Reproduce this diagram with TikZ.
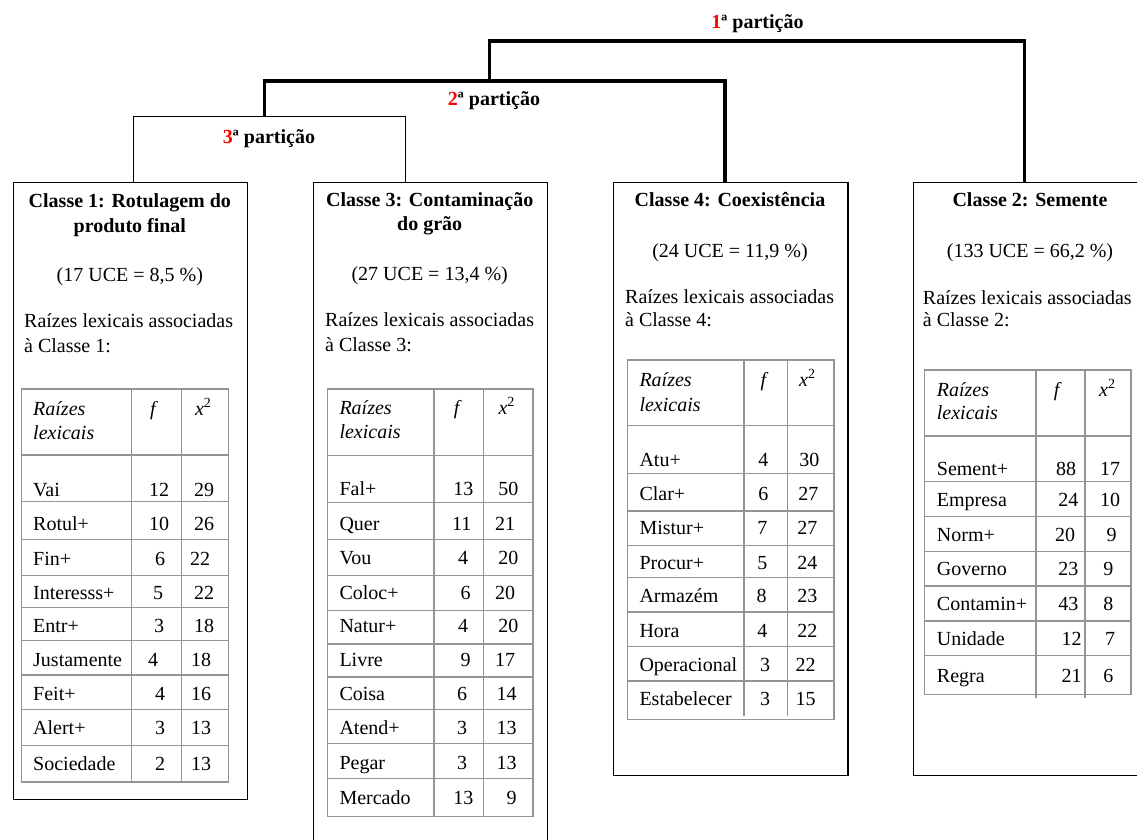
\documentclass[tikz,border=0pt]{standalone}
\usepackage{fontspec}
\setmainfont{Liberation Serif}
\begin{document}
\begin{tikzpicture}[x=1pt,y=-1pt,
  every node/.style={font=\fontsize{20}{24}\selectfont},
  boxnode/.style={draw=black, line width=1.2pt, rectangle, inner sep=0, anchor=north west},
  txt/.style={inner sep=0, anchor=base west},
  ctxt/.style={inner sep=0, anchor=base},
  ttl/.style={inner sep=0, anchor=base, font=\fontsize{20}{24}\selectfont\bfseries},
  hdr/.style={inner sep=0, anchor=base west, font=\fontsize{20}{24}\selectfont\itshape},
  chdr/.style={inner sep=0, anchor=base, font=\fontsize{20}{24}\selectfont\itshape},
  plab/.style={inner sep=0, anchor=base, font=\fontsize{20}{24}\selectfont\bfseries},
  tline/.style={draw=black!42, line width=1.3pt},
  treebig/.style={draw=black, line width=3.6pt},
  treesmall/.style={draw=black, line width=1.2pt}
]
\useasboundingbox (0,0) rectangle (1137,840);
\fill[white] (0,0) rectangle (1137,840);
\clip (0,0) rectangle (1137,840);

% ---------- boxes ----------
\node[boxnode, minimum width=234.3pt, minimum height=617pt] (c1) at (12.7,182) {};
\node[boxnode, minimum width=234.0pt, minimum height=700pt] (c3) at (312.7,182) {};
\node[boxnode, minimum width=234.6pt, minimum height=593pt] (c4) at (612.7,182) {};
\node[boxnode, minimum width=234.6pt, minimum height=593pt] (c2) at (912.7,182) {};

% ---------- tree ----------
\coordinate (j1L) at (489.6,41);  \coordinate (j1R) at (1024.5,41);
\coordinate (j2L) at (264.5,81);  \coordinate (j2R) at (725,81);
\coordinate (j3L) at (133.2,116.7); \coordinate (j3R) at (405.6,116.7);
\draw[treebig] (j2L -| j1L) -- (j1L) -- (j1R) -- (c2.north -| j1R);
\draw[treebig] (j3L -| j2L) -- (j2L) -- (j2R) -- (c4.north -| j2R);
\draw[treesmall] (c1.north -| j3L) -- (j3L) -- (j3R) -- (c3.north -| j3R);
\node[plab] (l1) at (757.5,29) {\textcolor{red}{1}ª partição};
\node[plab] (l2) at (494,106) {\textcolor{red}{2}ª partição};
\node[plab] (l3) at (269,143) {\textcolor{red}{3}ª partição};

% ---------- Classe 1 ----------
\node[ttl] (c1t1) at (129.85,207) {Classe 1: Rotulagem do};
\node[ttl] (c1t2) at (129.85,232.6) {produto final};
\node[ctxt] (c1u) at (129.85,281) {(17 UCE = 8,5 \%)};
\node[txt] (c1r1) at (24,327) {Raízes lexicais associadas};
\node[txt] (c1r2) at (24,352) {à Classe 1:};
\draw[tline] (21.7,389) rectangle (228.3,782);
\foreach \y in {455,501.5,539.6,575.2,607.7,640.6,675.1,709.5,745.6}
  \draw[tline] (21.7,\y) -- (228.3,\y);
\draw[tline] (131.7,389) -- (131.7,782);
\draw[tline] (181.7,389) -- (181.7,782);
\node[hdr] (c1h1) at (33,415) {Raízes};
\node[hdr] (c1h2) at (33,439) {lexicais};
\node[chdr] (c1hf) at (153,415) {f};
\node[chdr] (c1hx) at (203.3,415) {x\textsuperscript{\upshape 2}};
\foreach \w/\f/\fx/\c/\cx/\y [count=\i] in {
  Vai/12/159/29/204/496,
  Rotul+/10/159/26/204/530,
  Fin+/6/160/22/200/565,
  Interesss+/5/158/22/204/599.5,
  Entr+/3/159/18/204/632.5,
  Justamente/4/153/18/201/666,
  Feit+/4/160/16/201/700,
  Alert+/3/160/13/201/734.5,
  Sociedade/2/160/13/201/770}
{
  \node[txt] (c1w\i) at (33,\y) {\w};
  \node[ctxt] (c1f\i) at (\fx,\y) {\f};
  \node[ctxt] (c1x\i) at (\cx,\y) {\c};
}

% ---------- Classe 3 ----------
\node[ttl] (c3t1) at (429.7,206) {Classe 3: Contaminação};
\node[ttl] (c3t2) at (429.7,230.4) {do grão};
\node[ctxt] (c3u) at (429.7,280) {(27 UCE = 13,4 \%)};
\node[txt] (c3r1) at (325,326.5) {Raízes lexicais associadas};
\node[txt] (c3r2) at (325,351) {à Classe 3:};
\draw[tline] (327.5,389) rectangle (533,816.7);
\foreach \y in {455.8,502.4,539.2,575.5,610.2,644,677,709.6,743.4,778.6}
  \draw[tline] (327.5,\y) -- (533,\y);
\draw[tline] (434,389) -- (434,816.7);
\draw[tline] (483.5,389) -- (483.5,816.7);
\node[hdr] (c3h1) at (339.3,414.5) {Raízes};
\node[hdr] (c3h2) at (339.3,438.6) {lexicais};
\node[chdr] (c3hf) at (456.7,414.5) {f};
\node[chdr] (c3hx) at (506.7,414.5) {x\textsuperscript{\upshape 2}};
\foreach \w/\f/\fx/\c/\cx/\y [count=\i] in {
  Fal+/13/463.3/50/508.3/495.7,
  Quer/11/461.7/21/505/530.4,
  Vou/4/463/20/508.3/564.2,
  Coloc+/6/465.7/20/505/599.3,
  Natur+/4/463/20/508.3/632.3,
  Livre/9/465.7/17/505/666,
  Coisa/6/462/14/506.7/700,
  Atend+/3/462/13/506.7/734.7,
  Pegar/3/462/13/506.7/769.8,
  Mercado/13/463.3/9/511.7/804.5}
{
  \node[txt] (c3w\i) at (339.3,\y) {\w};
  \node[ctxt] (c3f\i) at (\fx,\y) {\f};
  \node[ctxt] (c3x\i) at (\cx,\y) {\c};
}

% ---------- Classe 4 ----------
\node[ttl] (c4t1) at (730,206) {Classe 4: Coexistência};
\node[ctxt] (c4u) at (730,257.8) {(24 UCE = 11,9 \%)};
\node[txt] (c4r1) at (625,303.8) {Raízes lexicais associadas};
\node[txt] (c4r2) at (625,326.5) {à Classe 4:};
\draw[tline] (627.7,360) rectangle (834,719.4);
\foreach \y in {425.4,473.3,510.9,545.8,577.6,612.1,646.6,681.1}
  \draw[tline] (627.7,\y) -- (834,\y);
\draw[tline] (744,360) -- (744,716);
\draw[tline] (787.7,360) -- (787.7,716);
\node[hdr] (c4h1) at (639.3,386.5) {Raízes};
\node[hdr] (c4h2) at (639.3,411) {lexicais};
\node[chdr] (c4hf) at (763.3,386.5) {f};
\node[chdr] (c4hx) at (807.3,386.5) {x\textsuperscript{\upshape 2}};
\foreach \w/\f/\fx/\c/\cx/\y [count=\i] in {
  Atu+/4/763.3/30/809.3/466.7,
  Clar+/6/763.3/27/808.3/500.5,
  Mistur+/7/762.3/27/807.3/534.5,
  Procur+/5/762.3/24/807.3/569,
  Armazém/8/761.7/23/807.3/602.5,
  Hora/4/762.3/22/807.3/637,
  Operacional/3/765/22/805.7/671,
  Estabelecer/3/765/15/805.7/705.4}
{
  \node[txt] (c4w\i) at (639.3,\y) {\w};
  \node[ctxt] (c4f\i) at (\fx,\y) {\f};
  \node[ctxt] (c4x\i) at (\cx,\y) {\c};
}

% ---------- Classe 2 ----------
\node[ttl] (c2t1) at (1030,206) {Classe 2: Semente};
\node[ctxt] (c2u) at (1030,257.8) {(133 UCE = 66,2 \%)};
\node[txt] (c2r1) at (922.7,304) {Raízes lexicais associadas};
\node[txt] (c2r2) at (922.7,326.5) {à Classe 2:};
\draw[tline] (924.3,370) rectangle (1131,694.3);
\foreach \y in {436,481.7,516.5,551.3,586.1,620.9,655.7}
  \draw[tline] (924.3,\y) -- (1131,\y);
\draw[tline] (1036,370) -- (1036,697.5);
\draw[tline] (1085,370) -- (1085,697.5);
\node[hdr] (c2h1) at (936.7,396) {Raízes};
\node[hdr] (c2h2) at (936.7,419.5) {lexicais};
\node[chdr] (c2hf) at (1056.7,396) {f};
\node[chdr] (c2hx) at (1107.3,396) {x\textsuperscript{\upshape 2}};
\foreach \w/\f/\fx/\c/\cx/\y [count=\i] in {
  Sement+/88/1066/17/1110/475,
  Empresa/24/1068.3/10/1110/506,
  Norm+/20/1065/9/1111.7/541,
  Governo/23/1068.3/9/1108.3/575.7,
  Contamin+/43/1068.3/8/1108.3/610.5,
  Unidade/12/1071.7/7/1110/645.3,
  Regra/21/1071.7/6/1108.3/682}
{
  \node[txt] (c2w\i) at (936.7,\y) {\w};
  \node[ctxt] (c2f\i) at (\fx,\y) {\f};
  \node[ctxt] (c2x\i) at (\cx,\y) {\c};
}
\end{tikzpicture}
\end{document}
